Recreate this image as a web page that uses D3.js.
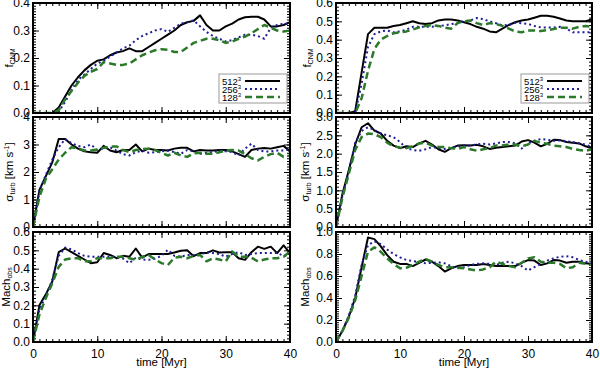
<!DOCTYPE html>
<html lang="en">
<head>
<meta charset="utf-8">
<title>CNM fraction, turbulent velocity and Mach number vs time</title>
<style>
body { margin: 0; background: #fff; }
svg { display: block; font-family: "Liberation Sans", Arial, sans-serif; }
.tick text { font-size: 12px; fill: #000; font-family: "Liberation Sans", Arial, sans-serif; }
.tick line { stroke: #000; }
</style>
</head>
<body>
<svg width="600" height="370"></svg>
<script src="https://cdn.jsdelivr.net/npm/d3@7"></script>
<script>

// time in Myr, one snapshot per Myr
const time = d3.range(0, 41);
const resolutions = ['512', '256', '128'];

// f_CNM, left run
const fcnmL512 = [0,0,0,0,0.02,0.06,0.10,0.13,0.155,0.175,0.19,0.195,0.21,0.22,0.225,0.235,0.225,0.225,0.24,0.255,0.27,0.285,0.30,0.32,0.33,0.335,0.355,0.32,0.30,0.30,0.315,0.325,0.34,0.348,0.35,0.35,0.34,0.315,0.315,0.32,0.33];
const fcnmL256 = [0,0,0,0,0.005,0.04,0.085,0.12,0.14,0.16,0.18,0.19,0.205,0.22,0.235,0.245,0.265,0.28,0.29,0.30,0.305,0.295,0.31,0.325,0.33,0.337,0.315,0.295,0.28,0.27,0.26,0.265,0.275,0.285,0.285,0.28,0.27,0.31,0.32,0.325,0.325];
const fcnmL128 = [0,0,0,0,0.01,0.05,0.08,0.11,0.135,0.15,0.16,0.185,0.18,0.175,0.175,0.18,0.195,0.21,0.22,0.228,0.232,0.23,0.222,0.222,0.238,0.255,0.262,0.27,0.27,0.265,0.255,0.26,0.27,0.278,0.29,0.305,0.32,0.31,0.30,0.296,0.30];

// f_CNM, right run
const fcnmR512 = [0,0,0,0.01,0.22,0.43,0.465,0.465,0.465,0.475,0.48,0.49,0.50,0.49,0.485,0.49,0.505,0.51,0.51,0.505,0.495,0.485,0.47,0.46,0.445,0.44,0.46,0.48,0.495,0.505,0.51,0.52,0.53,0.53,0.525,0.515,0.505,0.50,0.50,0.50,0.51];
const fcnmR256 = [0,0,0,0,0.16,0.36,0.43,0.445,0.45,0.44,0.445,0.455,0.47,0.47,0.47,0.47,0.475,0.478,0.485,0.49,0.50,0.505,0.518,0.512,0.50,0.49,0.478,0.48,0.493,0.49,0.486,0.475,0.467,0.467,0.467,0.47,0.46,0.44,0.44,0.44,0.44];
const fcnmR128 = [0,0,0,0,0.08,0.23,0.35,0.40,0.42,0.435,0.44,0.445,0.455,0.467,0.475,0.48,0.475,0.465,0.46,0.49,0.50,0.505,0.49,0.48,0.49,0.485,0.475,0.46,0.445,0.44,0.45,0.45,0.447,0.452,0.458,0.465,0.465,0.46,0.47,0.475,0.47];

// sigma_turb [km/s], left run
const sigL512 = [0,1.35,1.85,2.35,3.2,3.2,3.0,2.85,2.75,2.72,2.7,2.95,2.78,2.72,2.8,2.8,3.0,2.75,2.85,2.8,2.8,2.78,2.85,2.88,2.88,2.75,2.8,2.78,2.78,2.8,2.8,2.75,2.65,2.55,2.8,2.85,2.87,2.85,2.9,2.95,2.75];
const sigL256 = [0,1.3,1.9,2.45,2.9,3.2,3.05,2.95,2.9,3.0,2.8,2.85,2.9,2.78,2.65,2.6,2.72,2.78,2.7,2.72,2.75,2.78,2.72,2.66,2.8,2.75,2.66,2.7,2.72,2.78,2.75,2.72,2.6,2.85,3.03,2.8,2.75,2.75,2.78,2.78,2.82];
const sigL128 = [0,1.1,1.75,2.1,2.45,2.7,2.9,2.85,2.78,2.78,2.82,2.88,2.93,2.93,2.8,2.72,2.8,2.83,2.85,2.8,2.7,2.6,2.7,2.6,2.55,2.68,2.7,2.66,2.66,2.72,2.78,2.8,2.78,2.65,2.5,2.42,2.55,2.65,2.7,2.55,2.6];

// sigma_turb [km/s], right run
const sigR512 = [0,0.9,1.55,2.25,2.72,2.83,2.63,2.55,2.35,2.22,2.15,2.2,2.18,2.28,2.35,2.25,2.12,2.05,2.15,2.22,2.23,2.22,2.24,2.2,2.13,2.16,2.18,2.2,2.22,2.33,2.37,2.3,2.2,2.27,2.38,2.37,2.32,2.3,2.28,2.2,2.15];
const sigR256 = [0,0.85,1.5,2.3,2.62,2.72,2.65,2.55,2.5,2.45,2.32,2.15,2.1,2.08,2.12,2.18,2.15,2.13,2.15,2.2,2.22,2.22,2.25,2.27,2.25,2.28,2.32,2.32,2.28,2.14,2.28,2.35,2.4,2.38,2.35,2.36,2.34,2.32,2.28,2.25,2.18];
const sigR128 = [0,0.8,1.45,2.1,2.45,2.55,2.53,2.45,2.3,2.2,2.17,2.15,2.2,2.28,2.3,2.22,2.18,2.18,2.15,2.13,2.18,2.12,2.08,2.12,2.15,2.22,2.22,2.25,2.25,2.2,2.25,2.35,2.3,2.27,2.22,2.2,2.18,2.13,2.1,2.08,2.12];

// Mach_obs, left run
const machL512 = [0,0.2,0.26,0.33,0.49,0.51,0.49,0.47,0.45,0.43,0.435,0.485,0.475,0.457,0.47,0.465,0.51,0.46,0.48,0.48,0.48,0.48,0.488,0.498,0.50,0.468,0.485,0.485,0.50,0.488,0.49,0.49,0.457,0.448,0.49,0.52,0.508,0.52,0.485,0.527,0.485];
const machL256 = [0,0.18,0.25,0.34,0.47,0.515,0.505,0.485,0.47,0.465,0.465,0.465,0.465,0.465,0.455,0.43,0.46,0.45,0.448,0.455,0.47,0.503,0.47,0.465,0.475,0.475,0.475,0.49,0.485,0.48,0.465,0.48,0.49,0.475,0.48,0.485,0.485,0.485,0.485,0.47,0.475];
const machL128 = [0,0.15,0.24,0.32,0.41,0.45,0.457,0.457,0.44,0.44,0.457,0.457,0.457,0.465,0.465,0.457,0.448,0.465,0.475,0.45,0.43,0.42,0.46,0.465,0.457,0.47,0.475,0.44,0.457,0.45,0.44,0.494,0.465,0.465,0.46,0.44,0.45,0.457,0.457,0.465,0.494];

// Mach_obs, right run
const machR512 = [0,0.1,0.23,0.4,0.68,0.95,0.935,0.87,0.79,0.73,0.71,0.71,0.69,0.72,0.75,0.73,0.69,0.64,0.67,0.69,0.70,0.70,0.70,0.71,0.70,0.69,0.69,0.69,0.69,0.72,0.745,0.74,0.70,0.715,0.745,0.74,0.72,0.73,0.73,0.715,0.71];
const machR256 = [0,0.1,0.24,0.42,0.7,0.88,0.915,0.89,0.84,0.80,0.77,0.745,0.735,0.73,0.715,0.72,0.725,0.715,0.69,0.67,0.68,0.7,0.71,0.715,0.71,0.70,0.72,0.73,0.715,0.69,0.65,0.68,0.71,0.74,0.76,0.775,0.78,0.77,0.745,0.73,0.714];
const machR128 = [0,0.1,0.22,0.38,0.6,0.82,0.86,0.82,0.76,0.71,0.67,0.675,0.70,0.73,0.755,0.73,0.70,0.68,0.68,0.675,0.67,0.66,0.65,0.66,0.68,0.73,0.71,0.69,0.68,0.72,0.76,0.77,0.73,0.72,0.72,0.71,0.67,0.68,0.72,0.71,0.70];

const svg = d3.select('svg');

const cols = [{left: 33, width: 257}, {left: 336, width: 256}];
const rows = [{top: 3, height: 110}, {top: 117, height: 110}, {top: 232, height: 110}];

const styles = {
  '512': {color: '#000000', width: 2, dash: null},
  '256': {color: '#1e1e96', width: 2, dash: '2,3'},
  '128': {color: '#2a7a2a', width: 2.5, dash: '7,4'}
};

// y titles per row
const titles = [
  [{t: 'f'}, {t: 'CNM', sub: true}],
  [{t: '\u03c3'}, {t: 'turb', sub: true}, {t: ' [km s'}, {t: '-1', sup: true}, {t: ']'}],
  [{t: 'Mach'}, {t: 'obs', sub: true}]
];

const panels = [
  {row: 0, col: 0, ymax: 0.4, major: 0.1, minor: 0.01, fmt: d3.format('.1f'), series: [fcnmL512, fcnmL256, fcnmL128], legend: true, titleX: 13},
  {row: 0, col: 1, ymax: 0.6, major: 0.1, minor: 0.02, fmt: d3.format('.1f'), series: [fcnmR512, fcnmR256, fcnmR128], legend: true, titleX: 311},
  {row: 1, col: 0, ymax: 4, major: 1, minor: 0.1, fmt: d3.format('d'), series: [sigL512, sigL256, sigL128], titleX: 13},
  {row: 1, col: 1, ymax: 3, major: 0.5, minor: 0.1, fmt: d3.format('.1f'), series: [sigR512, sigR256, sigR128], titleX: 309},
  {row: 2, col: 0, ymax: 0.6, major: 0.1, minor: 0.02, fmt: d3.format('.1f'), series: [machL512, machL256, machL128], xlabels: true, titleX: 10},
  {row: 2, col: 1, ymax: 1.0, major: 0.2, minor: 0.02, fmt: d3.format('.1f'), series: [machR512, machR256, machR128], xlabels: true, titleX: 309}
];

function ticksFor(max, step) {
  const n = Math.round(max / step);
  return d3.range(0, n + 1).map(i => +(i * step).toFixed(4));
}

panels.forEach((p, pi) => {
  const c = cols[p.col], r = rows[p.row];
  const w = c.width, h = r.height;

  const x = d3.scaleLinear().domain([0, 40]).range([0, w]);
  const y = d3.scaleLinear().domain([0, p.ymax]).range([h, 0]);

  const g = svg.append('g')
      .attr('transform', 'translate(' + c.left + ',' + r.top + ')');

  g.append('clipPath').attr('id', 'clip' + pi)
    .append('rect').attr('width', w).attr('height', h);

  const xMinor = ticksFor(40, 1), xMajor = ticksFor(40, 10);
  const yMinor = ticksFor(p.ymax, p.minor), yMajor = ticksFor(p.ymax, p.major);

  // inward minor ticks on all four sides
  const minorAxes = [
    [d3.axisBottom(x).tickValues(xMinor), 'translate(0,' + h + ')'],
    [d3.axisTop(x).tickValues(xMinor), null],
    [d3.axisLeft(y).tickValues(yMinor), null],
    [d3.axisRight(y).tickValues(yMinor), 'translate(' + w + ',0)']
  ];
  minorAxes.forEach(([ax, tr]) => {
    const a = g.append('g')
      .call(ax.tickSize(-3).tickSizeOuter(0).tickFormat(''));
    if (tr) a.attr('transform', tr);
    a.select('.domain').remove();
  });

  // major ticks, labels on left (and bottom for the last row)
  const bottom = g.append('g').attr('transform', 'translate(0,' + h + ')')
    .call(d3.axisBottom(x).tickValues(xMajor).tickSize(-6).tickSizeOuter(0)
      .tickPadding(7).tickFormat(p.xlabels ? d3.format('d') : ''));
  bottom.select('.domain').remove();

  const top = g.append('g')
    .call(d3.axisTop(x).tickValues(xMajor).tickSize(-6).tickSizeOuter(0).tickFormat(''));
  top.select('.domain').remove();

  const left = g.append('g')
    .call(d3.axisLeft(y).tickValues(yMajor).tickSize(-6).tickSizeOuter(0)
      .tickPadding(3).tickFormat(p.fmt));
  left.select('.domain').remove();

  const right = g.append('g').attr('transform', 'translate(' + w + ',0)')
    .call(d3.axisRight(y).tickValues(yMajor).tickSize(-6).tickSizeOuter(0).tickFormat(''));
  right.select('.domain').remove();

  // the curves
  const line = d3.line().x((d, i) => x(time[i])).y(d => y(d));
  const curves = g.append('g').attr('clip-path', 'url(#clip' + pi + ')');
  p.series.forEach((s, si) => {
    const st = styles[resolutions[si]];
    curves.append('path')
      .datum(s)
      .attr('d', line)
      .attr('fill', 'none')
      .attr('stroke', st.color)
      .attr('stroke-width', st.width)
      .attr('stroke-linejoin', 'round')
      .attr('stroke-dasharray', st.dash);
  });

  // thick frame
  g.append('rect')
    .attr('width', w).attr('height', h)
    .attr('fill', 'none').attr('stroke', '#000').attr('stroke-width', 2);

  // y title, sub/superscripts via dy shifts
  const parts = titles[p.row];
  const title = svg.append('text')
    .attr('transform', 'translate(' + p.titleX + ',' + (r.top + h / 2) + ') rotate(-90)')
    .attr('text-anchor', 'middle')
    .attr('font-size', 11.5);
  let shift = 0;
  parts.forEach(part => {
    const want = part.sub ? 2 : part.sup ? -4 : 0;
    const ts = title.append('tspan').text(part.t).attr('dy', want - shift);
    if (part.sub || part.sup) ts.attr('font-size', 7);
    shift = want;
  });

  if (p.xlabels) {
    svg.append('text')
      .attr('x', c.left + w / 2)
      .attr('y', 366)
      .attr('text-anchor', 'middle')
      .attr('font-size', 11.5)
      .text('time [Myr]');
  }

  if (p.legend) {
    const lw = 68, lh = 29;
    const lx = w - 3 - lw, ly = h - 10 - lh;
    const leg = g.append('g').attr('transform', 'translate(' + lx + ',' + ly + ')');
    leg.append('rect')
      .attr('width', lw).attr('height', lh)
      .attr('fill', '#fff').attr('stroke', '#999').attr('stroke-width', 1);
    resolutions.forEach((res, i) => {
      const st = styles[res];
      const yy = 7 + i * 8;
      const t = leg.append('text')
        .attr('x', 3).attr('y', yy + 3.5)
        .attr('font-size', 9.5);
      t.append('tspan').text(res);
      t.append('tspan').text('3').attr('font-size', 6).attr('dy', -4);
      leg.append('line')
        .attr('x1', 26).attr('x2', 61)
        .attr('y1', yy).attr('y2', yy)
        .attr('stroke', st.color)
        .attr('stroke-width', st.width)
        .attr('stroke-dasharray', st.dash);
    });
  }
});

</script>
</body>
</html>
